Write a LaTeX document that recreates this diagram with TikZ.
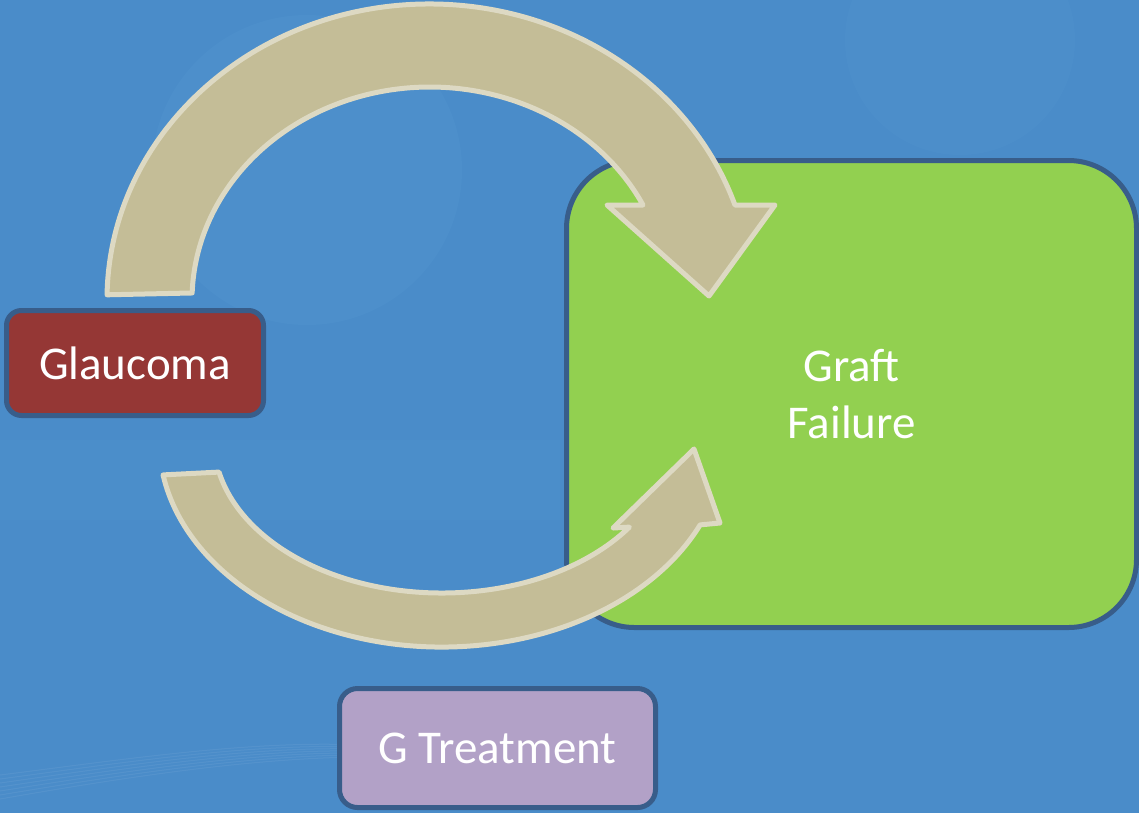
\documentclass[tikz,border=0pt]{standalone}
\usepackage{fontspec}
\setmainfont{Carlito}
\definecolor{bg}{RGB}{74,140,201}
\definecolor{bglight}{RGB}{84,152,210}
\definecolor{boxborder}{RGB}{56,93,138}
\definecolor{redfill}{RGB}{149,55,53}
\definecolor{greenfill}{RGB}{146,208,80}
\definecolor{purplefill}{RGB}{178,161,199}
\definecolor{arrowfill}{RGB}{196,189,151}
\definecolor{arrowline}{RGB}{221,217,195}
\begin{document}
\begin{tikzpicture}[x=1pt,y=-1pt,
  box/.style={draw=boxborder, line width=5pt, inner sep=0pt, text=white,
    font=\fontsize{47}{57}\selectfont, align=center},
  bigarrow/.style={fill=arrowfill, draw=arrowline, line width=5pt, line join=round}]
% background
\useasboundingbox (0,0) rectangle (1139,812);
\fill[bg] (-5,-5) rectangle (1144,817);
\fill[bglight, opacity=0.3] (307,170) circle (155);
\fill[bglight, opacity=0.22] (960,40) circle (115);
\fill[bglight, opacity=0.18] (0,440) rectangle (560,520);
\foreach \k in {0,...,6}{
  \draw[white, opacity=0.06, line width=1pt]
    (0,775+4*\k) .. controls (120,760+3*\k) and (250,740+3*\k) .. (360,745+2*\k);
}
% boxes
\node[box, fill=redfill, rounded corners=15pt, minimum width=257pt, minimum height=105pt]
  (glaucoma) at (135,363) {Glaucoma};
\node[box, fill=greenfill, rounded corners=68pt, minimum width=570pt, minimum height=467pt]
  (graft) at (851.5,394) {Graft\\Failure};
\node[box, fill=purplefill, rounded corners=18pt, minimum width=316pt, minimum height=119pt]
  (treat) at (497.5,748) {G Treatment};
% top curved arrow (Glaucoma -> Graft Failure)
\draw[bigarrow] (107.05,294.8)
  arc[start angle=181, end angle=341.3, x radius=322.5, y radius=296]
  -- (775,205) -- (709,296) -- (607,205) -- (643.0,205.0)
  arc[start angle=333.5, end angle=181.9, x radius=238, y radius=213]
  -- cycle;
% bottom curved arrow (Glaucoma -> Graft Failure)
\draw[bigarrow] (163.05,474.9)
  arc[start angle=170.3, end angle=24.2, x radius=283, y radius=207]
  -- (720,523) -- (694,449) -- (613,528) -- (629.4,527.1)
  arc[start angle=34.7, end angle=167.9, x radius=228, y radius=153]
  -- cycle;
\end{tikzpicture}
\end{document}
